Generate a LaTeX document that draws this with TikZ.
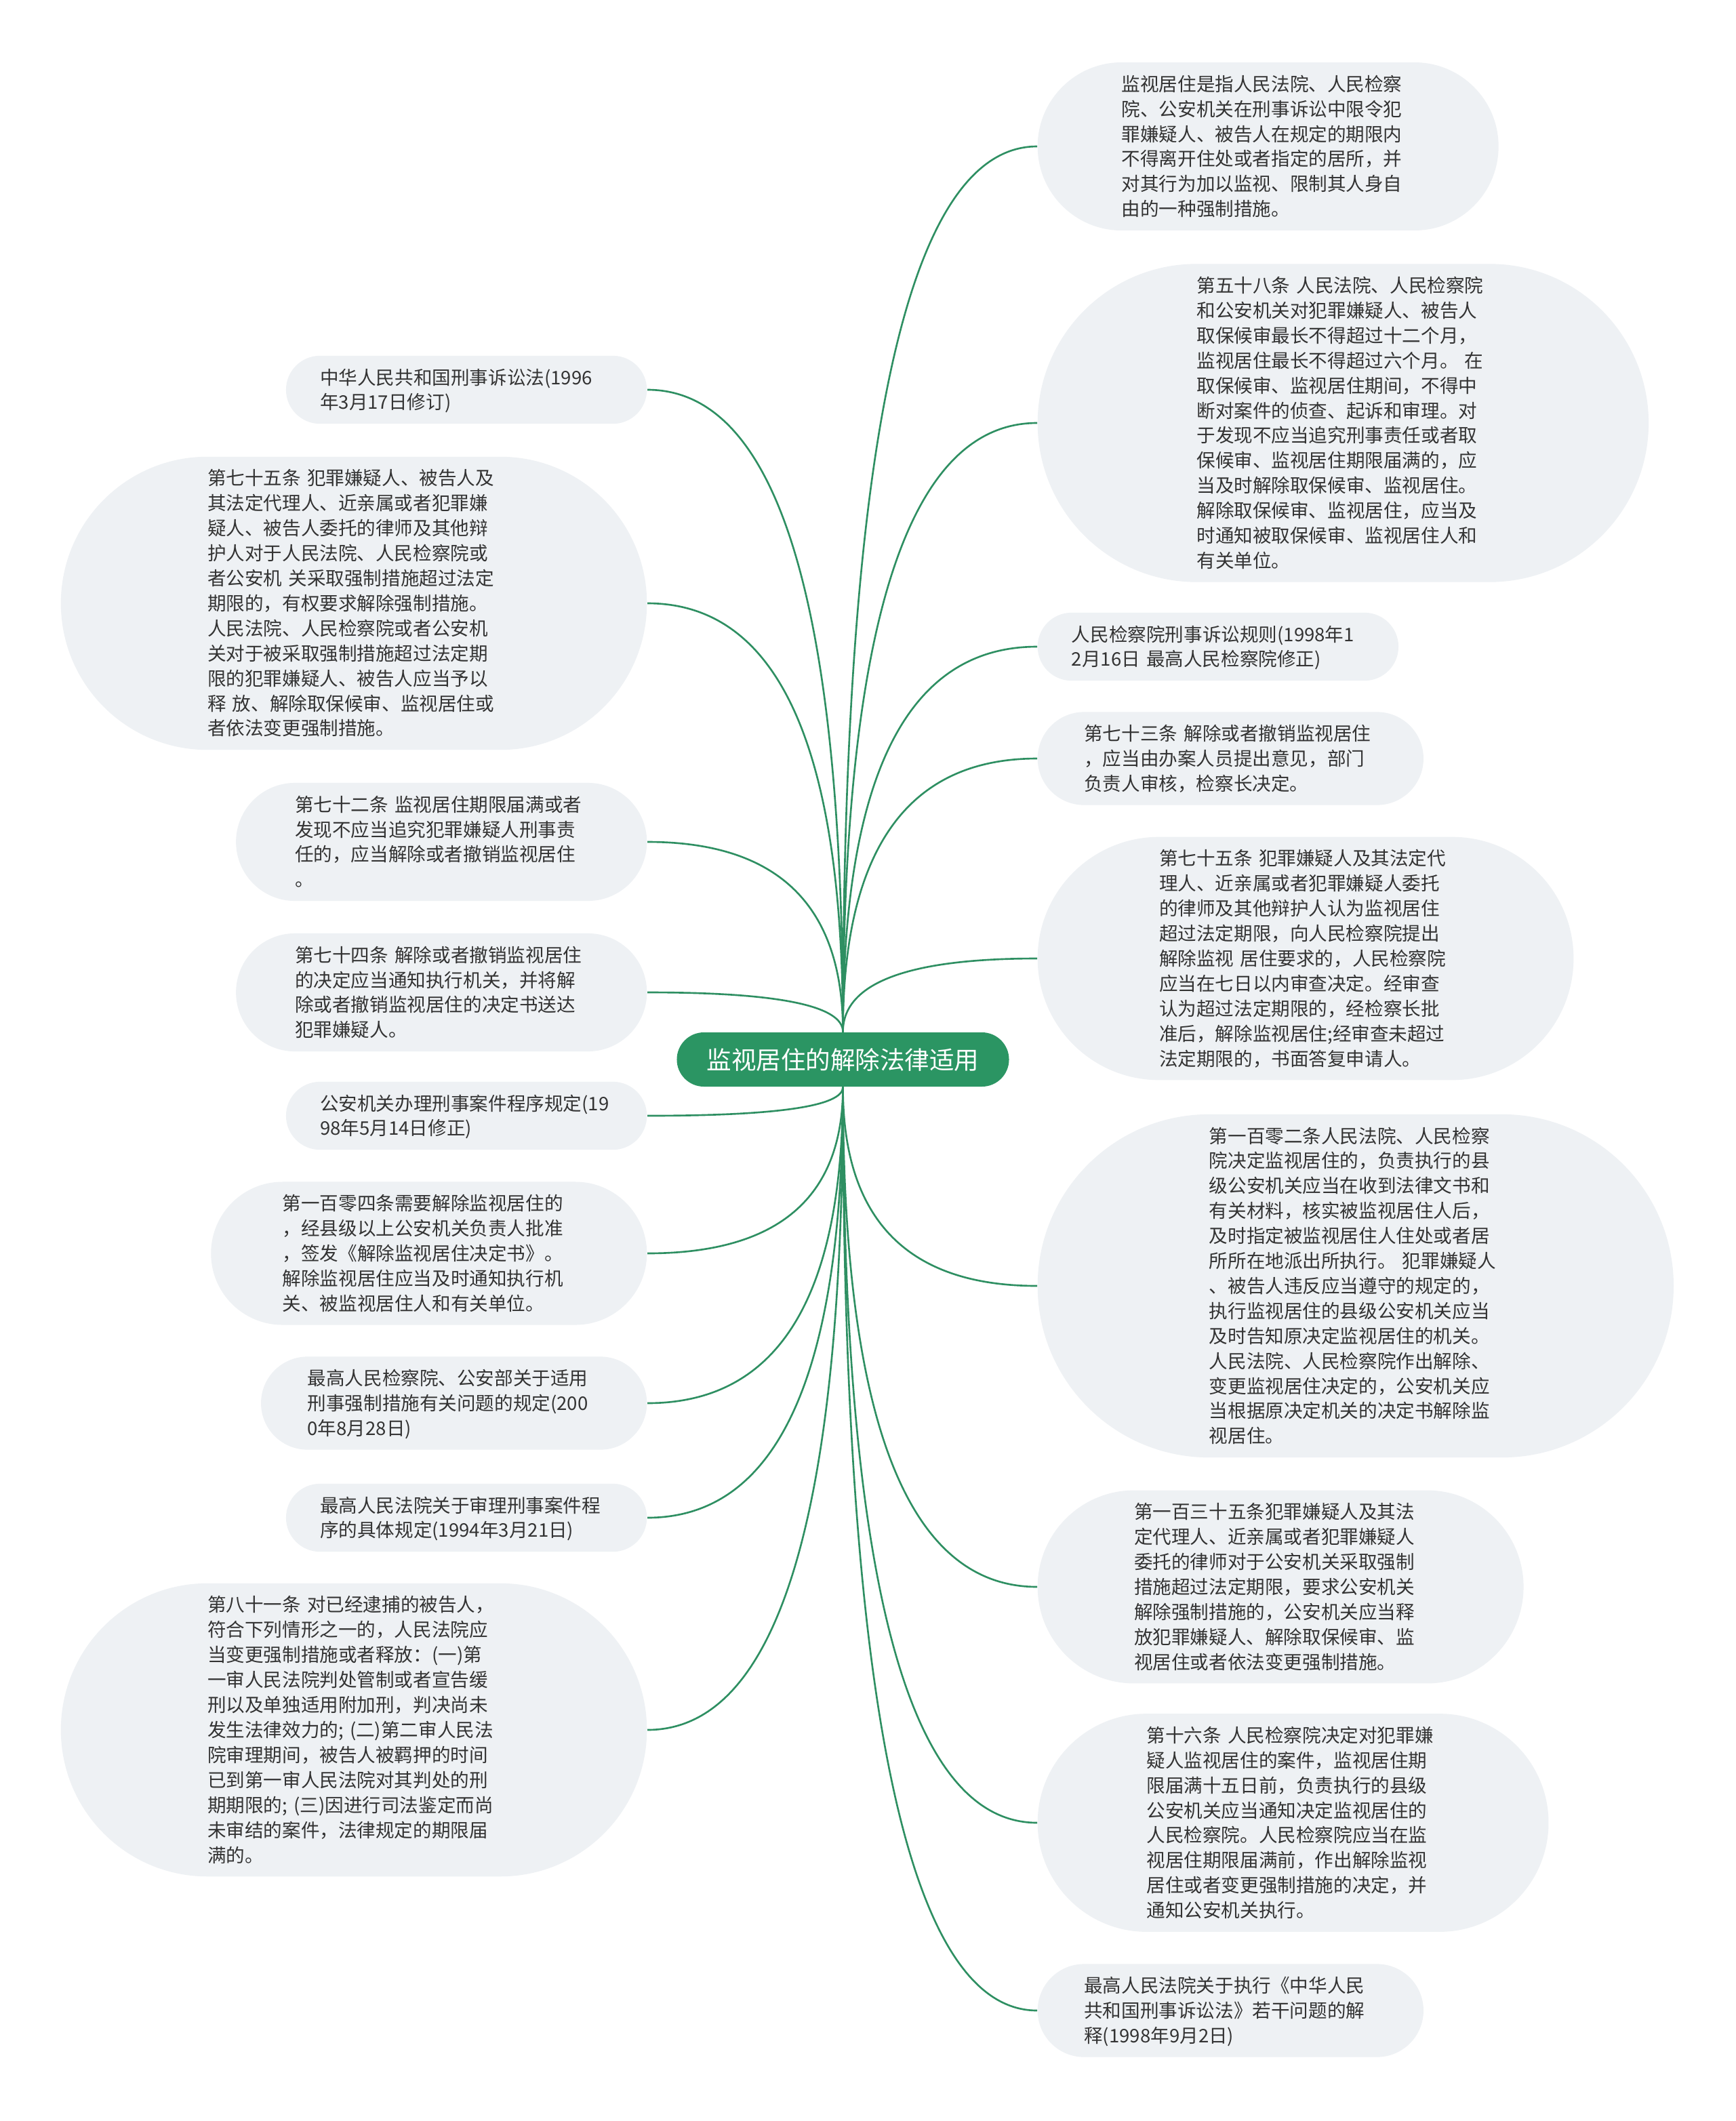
\documentclass[tikz,border=0pt]{standalone}
\usepackage{fontspec}
\newfontfamily\cjkfont{Noto Sans CJK SC}
\usepackage{tikz}
\usetikzlibrary{calc, shapes.misc}
\definecolor{mapGreen}{HTML}{2B9563}
\definecolor{linkGreen}{HTML}{2E8F62}
\definecolor{leafGrey}{HTML}{EEF1F4}
\definecolor{inkDark}{HTML}{333333}

\begin{document}
\begin{tikzpicture}[
  every node/.style={font=\cjkfont},
  hub/.style={
    rounded rectangle, inner xsep=0.04cm, inner ysep=0pt,
    text height=0.54cm, text depth=0.26cm,
    fill=mapGreen, text=white,
    font=\cjkfont\fontsize{10.4}{12}\selectfont
  },
  clause/.style={
    rounded rectangle, text width=4.32cm, align=left,
    inner xsep=0pt, inner ysep=0pt,
    fill=leafGrey, text=inkDark,
    font=\cjkfont\fontsize{7.85}{10.5}\selectfont,
    execute at begin node={\rule{0pt}{12pt}\ignorespaces},
    execute at end node={\rule[-6.05pt]{0pt}{6.05pt}}
  },
  link/.style={
    draw=linkGreen, line width=0.75pt,
    to path={.. controls ($(\tikztostart)!0.667!(\tikztostart |- \tikztotarget)$)
      and ($(\tikztotarget)!0.667!(\tikztostart |- \tikztotarget)$) .. (\tikztotarget)}
  },
]

\path[fill=white] (0,0) rectangle (25.60,-31.29);

% Central topic
\node[hub] (root) at (12.435,-15.63) {监视居住的解除法律适用};

% Right-hand clauses
\node[clause, anchor=west] (r1) at (15.30,-2.16) {
  监视居住是指人民法院、人民检察\\
  院、公安机关在刑事诉讼中限令犯\\
  罪嫌疑人、被告人在规定的期限内\\
  不得离开住处或者指定的居所，并\\
  对其行为加以监视、限制其人身自\\
  由的一种强制措施。};
\node[clause, anchor=west] (r2) at (15.30,-6.24) {
  第五十八条~人民法院、人民检察院\\
  和公安机关对犯罪嫌疑人、被告人\\
  取保候审最长不得超过十二个月，\\
  监视居住最长不得超过六个月。~在\\
  取保候审、监视居住期间，不得中\\
  断对案件的侦查、起诉和审理。对\\
  于发现不应当追究刑事责任或者取\\
  保候审、监视居住期限届满的，应\\
  当及时解除取保候审、监视居住。\\
  解除取保候审、监视居住，应当及\\
  时通知被取保候审、监视居住人和\\
  有关单位。};
\node[clause, anchor=west] (r3) at (15.30,-9.54) {
  人民检察院刑事诉讼规则(1998年1\\
  2月16日~最高人民检察院修正)};
\node[clause, anchor=west] (r4) at (15.30,-11.19) {
  第七十三条~解除或者撤销监视居住\\
  ，应当由办案人员提出意见，部门\\
  负责人审核，检察长决定。};
\node[clause, anchor=west] (r5) at (15.30,-14.14) {
  第七十五条~犯罪嫌疑人及其法定代\\
  理人、近亲属或者犯罪嫌疑人委托\\
  的律师及其他辩护人认为监视居住\\
  超过法定期限，向人民检察院提出\\
  解除监视~居住要求的，人民检察院\\
  应当在七日以内审查决定。经审查\\
  认为超过法定期限的，经检察长批\\
  准后，解除监视居住;经审查未超过\\
  法定期限的，书面答复申请人。};
\node[clause, anchor=west] (r6) at (15.30,-18.97) {
  第一百零二条人民法院、人民检察\\
  院决定监视居住的，负责执行的县\\
  级公安机关应当在收到法律文书和\\
  有关材料，核实被监视居住人后，\\
  及时指定被监视居住人住处或者居\\
  所所在地派出所执行。~犯罪嫌疑人\\
  、被告人违反应当遵守的规定的，\\
  执行监视居住的县级公安机关应当\\
  及时告知原决定监视居住的机关。\\
  人民法院、人民检察院作出解除、\\
  变更监视居住决定的，公安机关应\\
  当根据原决定机关的决定书解除监\\
  视居住。};
\node[clause, anchor=west] (r7) at (15.30,-23.41) {
  第一百三十五条犯罪嫌疑人及其法\\
  定代理人、近亲属或者犯罪嫌疑人\\
  委托的律师对于公安机关采取强制\\
  措施超过法定期限，要求公安机关\\
  解除强制措施的，公安机关应当释\\
  放犯罪嫌疑人、解除取保候审、监\\
  视居住或者依法变更强制措施。};
\node[clause, anchor=west] (r8) at (15.30,-26.89) {
  第十六条~人民检察院决定对犯罪嫌\\
  疑人监视居住的案件，监视居住期\\
  限届满十五日前，负责执行的县级\\
  公安机关应当通知决定监视居住的\\
  人民检察院。人民检察院应当在监\\
  视居住期限届满前，作出解除监视\\
  居住或者变更强制措施的决定，并\\
  通知公安机关执行。};
\node[clause, anchor=west] (r9) at (15.30,-29.66) {
  最高人民法院关于执行《中华人民\\
  共和国刑事诉讼法》若干问题的解\\
  释(1998年9月2日)};

% Left-hand clauses
\node[clause, anchor=east] (l1) at (9.55,-5.75) {
  中华人民共和国刑事诉讼法(1996\\
  年3月17日修订)};
\node[clause, anchor=east] (l2) at (9.55,-8.90) {
  第七十五条~犯罪嫌疑人、被告人及\\
  其法定代理人、近亲属或者犯罪嫌\\
  疑人、被告人委托的律师及其他辩\\
  护人对于人民法院、人民检察院或\\
  者公安机~关采取强制措施超过法定\\
  期限的，有权要求解除强制措施。\\
  人民法院、人民检察院或者公安机\\
  关对于被采取强制措施超过法定期\\
  限的犯罪嫌疑人、被告人应当予以\\
  释~放、解除取保候审、监视居住或\\
  者依法变更强制措施。};
\node[clause, anchor=east] (l3) at (9.55,-12.42) {
  第七十二条~监视居住期限届满或者\\
  发现不应当追究犯罪嫌疑人刑事责\\
  任的，应当解除或者撤销监视居住\\
  。};
\node[clause, anchor=east] (l4) at (9.55,-14.64) {
  第七十四条~解除或者撤销监视居住\\
  的决定应当通知执行机关，并将解\\
  除或者撤销监视居住的决定书送达\\
  犯罪嫌疑人。};
\node[clause, anchor=east] (l5) at (9.55,-16.46) {
  公安机关办理刑事案件程序规定(19\\
  98年5月14日修正)};
\node[clause, anchor=east] (l6) at (9.55,-18.49) {
  第一百零四条需要解除监视居住的\\
  ，经县级以上公安机关负责人批准\\
  ，签发《解除监视居住决定书》。\\
  解除监视居住应当及时通知执行机\\
  关、被监视居住人和有关单位。};
\node[clause, anchor=east] (l7) at (9.55,-20.70) {
  最高人民检察院、公安部关于适用\\
  刑事强制措施有关问题的规定(200\\
  0年8月28日)};
\node[clause, anchor=east] (l8) at (9.55,-22.39) {
  最高人民法院关于审理刑事案件程\\
  序的具体规定(1994年3月21日)};
\node[clause, anchor=east] (l9) at (9.55,-25.52) {
  第八十一条~对已经逮捕的被告人，\\
  符合下列情形之一的，人民法院应\\
  当变更强制措施或者释放：(一)第\\
  一审人民法院判处管制或者宣告缓\\
  刑以及单独适用附加刑，判决尚未\\
  发生法律效力的;~(二)第二审人民法\\
  院审理期间，被告人被羁押的时间\\
  已到第一审人民法院对其判处的刑\\
  期期限的;~(三)因进行司法鉴定而尚\\
  未审结的案件，法律规定的期限届\\
  满的。};

% Connectors
\foreach \i in {1,...,5} \draw[link] (root.north) to (r\i.west);
\foreach \i in {6,...,9} \draw[link] (root.south) to (r\i.west);
\foreach \i in {1,...,4} \draw[link] (root.north) to (l\i.east);
\foreach \i in {5,...,9} \draw[link] (root.south) to (l\i.east);

\end{tikzpicture}
\end{document}
